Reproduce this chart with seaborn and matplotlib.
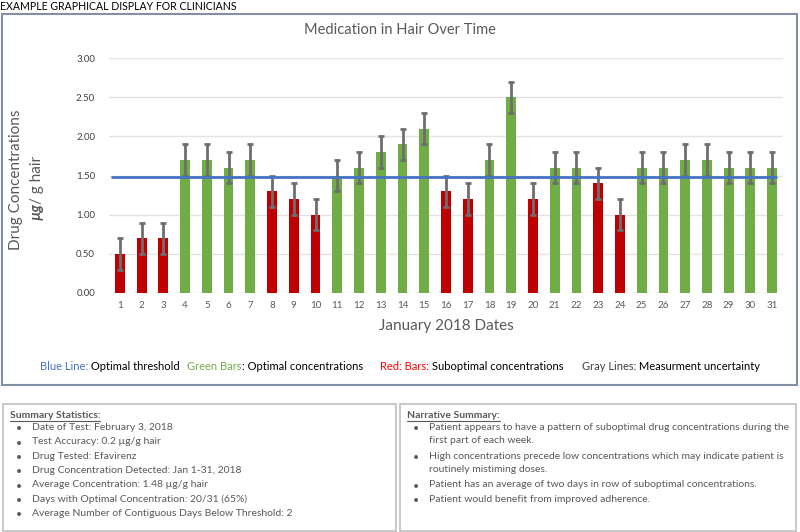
"""
Medication in hair over time - example graphical display for clinicians
"""
import numpy as np
import pandas as pd
import matplotlib
matplotlib.use("Agg")
import matplotlib.pyplot as plt
from matplotlib.patches import Rectangle
from matplotlib.lines import Line2D
import seaborn as sns

# data
days = list(range(1, 32))
concentrations = [0.5, 0.7, 0.7, 1.7, 1.7, 1.6, 1.7, 1.3, 1.2, 1.0,
                  1.5, 1.6, 1.8, 1.9, 2.1, 1.3, 1.2, 1.7, 2.5, 1.2,
                  1.6, 1.6, 1.4, 1.0, 1.6, 1.6, 1.7, 1.7, 1.6, 1.6, 1.6]
uncertainty = [0.2] * 31
status = ["low", "low", "low", "ok", "ok", "ok", "ok", "low", "low", "low",
          "ok", "ok", "ok", "ok", "ok", "low", "low", "ok", "ok", "low",
          "ok", "ok", "low", "low", "ok", "ok", "ok", "ok", "ok", "ok", "ok"]
threshold = 1.48
y_ticks = [0.0, 0.5, 1.0, 1.5, 2.0, 2.5, 3.0]

legend_items = [("Blue Line:", "#4472C4", " Optimal threshold"),
                ("Green Bars", "#70AD47", ": Optimal concentrations"),
                ("Red: Bars:", "#FF0000", " Suboptimal concentrations"),
                ("Gray Lines:", "#404040", " Measurment uncertainty")]

summary_lines = ["Date of Test: February 3, 2018",
                 "Test Accuracy: 0.2 \u00b5g/g hair",
                 "Drug Tested: Efavirenz",
                 "Drug Concentration Detected: Jan 1-31, 2018",
                 "Average Concentration: 1.48 \u00b5g/g hair",
                 "Days with Optimal Concentration: 20/31 (65%)",
                 "Average Number of Contiguous Days Below Threshold: 2"]

narrative_lines = ["Patient appears to have a pattern of suboptimal drug concentrations during the\nfirst part of each week.",
                   "High concentrations precede low concentrations which may indicate patient is\nroutinely mistiming doses.",
                   "Patient has an average of two days in row of suboptimal concentrations.",
                   "Patient would benefit from improved adherence."]

W, H = 800, 532

sns.set_theme(style="white")
plt.rcParams["font.family"] = ["Lato", "DejaVu Sans"]

fig = plt.figure(figsize=(8, 5.32), dpi=100)
fig.patch.set_facecolor("white")


def fx(px):
    return px / W


def fy(py):
    return 1 - py / H


# axes placement
ax = fig.add_axes([fx(109), fy(293), fx(783) - fx(109), fy(58) - fy(293)])

df = pd.DataFrame({"day": days, "conc": concentrations, "status": status})
sns.barplot(data=df, x="day", y="conc", hue="status",
            palette={"ok": "#70AD47", "low": "#C00000"}, saturation=1,
            dodge=False, width=0.45, linewidth=0, legend=False, ax=ax)

ax.errorbar(np.arange(len(days)), concentrations, yerr=uncertainty, fmt="none",
            ecolor="#6E6E6E", elinewidth=2, capsize=2.5, capthick=2, zorder=4)
ax.axhline(threshold, xmin=0.005, xmax=0.99, color="#4472C4", lw=2, zorder=5)

ax.set_xlim(-0.5, len(days) - 0.5)
ax.set_ylim(0, 3.0)
ax.set_yticks(y_ticks)
ax.set_yticklabels([f"{v:.2f}" for v in y_ticks], fontsize=7, color="#404040")
ax.tick_params(axis="x", labelsize=7, labelcolor="#595959", length=0, pad=6)
ax.tick_params(axis="y", length=0, pad=10)
ax.yaxis.grid(True, color="#E3E3E3", lw=1)
ax.set_axisbelow(True)
for s in ax.spines.values():
    s.set_visible(False)
ax.set_xlabel("January 2018 Dates", fontsize=11, color="#595959", labelpad=6)
ax.set_ylabel("")

fig.canvas.draw()
renderer = fig.canvas.get_renderer()

# outer chart frame
fig.add_artist(Rectangle((fx(2), fy(385)), fx(795), 371 / H, transform=fig.transFigure,
                         fill=False, edgecolor="#8190A8", lw=1.5))
fig.text(fx(0), fy(6), "EXAMPLE GRAPHICAL DISPLAY FOR CLINICIANS", fontsize=7.6,
         color="black", va="center", ha="left")
fig.text(fx(400), fy(30), "Medication in Hair Over Time", fontsize=10.5,
         color="#595959", va="center", ha="center")

# y label, two lines
fig.text(fx(16), fy(180), "Drug Concentrations", fontsize=11, color="#595959",
         rotation=90, va="center", ha="center")
y_px = 220
for txt, kw in [("\u00b5g", dict(fontweight="bold", fontstyle="italic")),
                ("/ g hair", {})]:
    t = fig.text(fx(37), fy(y_px), txt, fontsize=11, color="#595959", rotation=90,
                 va="bottom", ha="center", **kw)
    bb = t.get_window_extent(renderer)
    y_px -= bb.height - 1

# legend line made of coloured text pieces
starts = [40, 187, 380, 582]
for (label, col, desc), x0 in zip(legend_items, starts):
    t = fig.text(fx(x0), fy(366), label, fontsize=8, color=col, va="center", ha="left")
    bb = t.get_window_extent(renderer)
    fig.text(bb.x1 / W, fy(366), desc, fontsize=8, color="black", va="center", ha="left")


# bottom boxes
def text_box(x0, x1, heading, lines):
    fig.add_artist(Rectangle((fx(x0), fy(531)), fx(x1 - x0), 127 / H,
                             transform=fig.transFigure, fill=False,
                             edgecolor="#BFBFBF", lw=1.2))
    t = fig.text(fx(x0 + 7), fy(415), heading, fontsize=7.5, color="#595959",
                 fontweight="bold", va="center", ha="left")
    bb = t.get_window_extent(renderer)
    fig.add_artist(Line2D([bb.x0 / W, bb.x1 / W], [bb.y0 / H - 0.002] * 2,
                          transform=fig.transFigure, color="#595959", lw=0.8))
    y = 429
    for line in lines:
        fig.text(fx(x0 + 13), fy(y), "\u2022", fontsize=7.5, color="#595959",
                 va="center", ha="left")
        # top-anchored so wrapped lines flow down; nudged so line 1 sits on the bullet
        fig.text(fx(x0 + 29), fy(y - 6), line, fontsize=7.5, color="#595959",
                 va="top", ha="left", linespacing=1.6)
        y += 14.3 * (line.count("\n") + 1)


text_box(3, 396, "Summary Statistics:", summary_lines)
text_box(400, 796, "Narrative Summary:", narrative_lines)

fig.savefig("out.png", dpi=100)
